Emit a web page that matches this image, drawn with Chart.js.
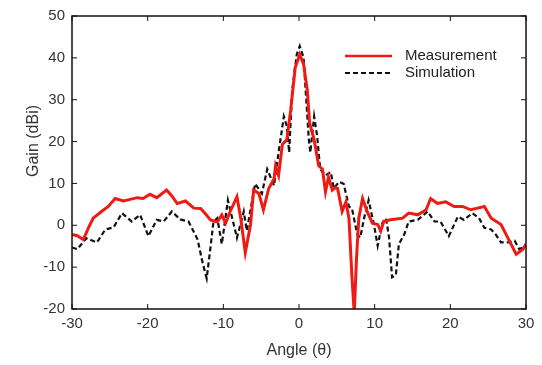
<!DOCTYPE html>
<html>
<head>
<meta charset="utf-8">
<script src="https://cdn.jsdelivr.net/npm/chart.js@4.4.1/dist/chart.umd.min.js"></script>
<style>
  html, body { margin: 0; padding: 0; background: #fff; }
  #wrap { width: 542px; height: 365px; }
</style>
</head>
<body>
<div id="wrap"><canvas id="gainChart" width="542" height="365"></canvas></div>
<script>
// ============================================
// DATA
// ============================================
const xTicks = [-30, -20, -10, 0, 10, 20, 30];
const yTicks = [-20, -10, 0, 10, 20, 30, 40, 50];

const measAngle = [
  -30, -29.3, -28.5, -27.8, -27.2, -26.1, -25.2, -24.3, -23.2, -22.3,
  -21.4, -20.6, -19.7, -18.8, -17.5, -16.8, -16.1, -15.0, -13.9, -13.0,
  -12.4, -11.7, -10.8, -10.2, -9.7, -9.1, -8.2, -7.7, -7.1, -6.4,
  -6.0, -5.3, -4.7, -4.0, -3.3, -3.1, -2.7, -2.2, -1.6, -1.1,
  -0.5, 0.1, 0.6, 1.1, 1.4, 2.0, 2.6, 3.1, 3.5, 3.9,
  4.4, 4.8, 5.1, 5.7, 6.2, 6.6, 7.0, 7.3, 7.6, 7.9,
  8.4, 9.0, 9.7, 10.4, 10.8, 11.2, 12.1, 13.7, 14.5, 15.7,
  16.8, 17.4, 18.3, 19.4, 20.5, 21.6, 22.7, 23.6, 24.5, 25.4,
  26.7, 27.6, 28.7, 29.6, 30
];
const measGain = [
  -2.2, -2.5, -3.4, -0.5, 1.7, 3.3, 4.5, 6.4, 5.8, 6.2,
  6.6, 6.4, 7.4, 6.6, 8.4, 7.0, 5.2, 5.8, 4.1, 4.0,
  2.8, 1.3, 0.8, 2.5, 0.5, 3.3, 6.8, 1.7, -6.5, 0.2,
  8.4, 7.6, 3.7, 8.8, 11.1, 14.2, 11.9, 19.3, 20.5, 27.5,
  37.7, 40.8, 38.5, 32.2, 24.4, 20.5, 14.2, 13.4, 8.0, 11.5,
  8.4, 9.0, 8.8, 3.3, 5.6, 1.7, -12.4, -21, -8, 1.7,
  6.4, 3.3, 0.5, 0.2, -1.4, 0.9, 1.3, 1.7, 2.9, 2.5,
  3.7, 6.4, 5.2, 5.6, 4.5, 4.5, 3.7, 4.1, 4.5, 1.7,
  0.2, -3.0, -6.9, -5.7, -4.5
];

const simAngle = [
  -30, -29.3, -28.1, -26.7, -25.6, -24.5, -23.4, -22.1, -21.0, -19.9,
  -18.8, -17.9, -16.8, -15.7, -14.6, -13.4, -12.8, -12.2, -11.7, -11.3,
  -10.8, -10.2, -9.4, -8.2, -7.3, -6.9, -5.8, -4.9, -4.2, -3.3,
  -2.7, -2.0, -1.6, -1.3, -0.9, -0.3, 0.1, 0.6, 1.3, 1.5,
  2.0, 2.4, 2.8, 3.5, 4.2, 4.6, 5.3, 5.9, 6.6, 7.0,
  7.7, 8.1, 8.6, 9.2, 9.9, 10.4, 11.0, 11.5, 11.9, 12.3,
  12.8, 13.2, 13.9, 14.5, 15.7, 17.0, 17.9, 18.7, 19.8, 21.0,
  21.8, 22.9, 23.8, 24.5, 25.4, 26.0, 26.7, 27.6, 28.5, 29.1,
  29.9
];
const simGain = [
  -5.3, -5.7, -3.1, -4.1, -1.0, -0.5, 2.9, 0.9, 2.5, -2.6,
  1.3, 0.9, 3.3, 1.4, 0.9, -3.4, -8.5, -12.7, -5.3, 0.9,
  1.7, -4.5, 6.0, -3.0, 3.3, -1.3, 9.9, 7.6, 13.4, 9.5,
  17.4, 26.0, 23.6, 17.4, 32.2, 40.8, 42.8, 40.1, 20.5, 17.4,
  26.0, 21.3, 13.4, 11.9, 12.7, 8.8, 10.4, 9.9, 4.5, 4.0,
  -2.2, -2.9, 1.7, 6.0, 0.2, -4.9, 0.5, 1.7, -2.9, -12.4,
  -11.9, -4.5, -2.2, 0.9, 1.3, 3.3, 0.9, 0.9, -2.6, 2.1,
  1.3, 2.9, 1.7, -0.6, -1.0, -2.2, -4.1, -4.1, -3.7, -5.7,
  -5.0
];

const toPoints = (xs, ys) => xs.map((x, i) => ({ x, y: ys[i] }));

// ============================================
// PLUGIN: box frame, inward ticks, y title, legend
// ============================================
const framePlugin = {
  id: 'frame',
  afterDatasetsDraw(chart) {
    const { ctx, chartArea: a, scales } = chart;
    const xs = scales.x, ys = scales.y;
    const tick = 5;
    ctx.save();
    ctx.strokeStyle = '#111';
    ctx.lineWidth = 1.5;
    ctx.strokeRect(a.left, a.top, a.right - a.left, a.bottom - a.top);

    ctx.lineWidth = 1;
    ctx.beginPath();
    xTicks.forEach(v => {
      const px = xs.getPixelForValue(v);
      ctx.moveTo(px, a.bottom); ctx.lineTo(px, a.bottom - tick);
      ctx.moveTo(px, a.top); ctx.lineTo(px, a.top + tick);
    });
    yTicks.forEach(v => {
      const py = ys.getPixelForValue(v);
      ctx.moveTo(a.left, py); ctx.lineTo(a.left + tick, py);
      ctx.moveTo(a.right, py); ctx.lineTo(a.right - tick, py);
    });
    ctx.stroke();

    // y axis title
    ctx.fillStyle = '#333';
    ctx.font = '16px "Liberation Sans", Arial, sans-serif';
    ctx.textAlign = 'center';
    ctx.textBaseline = 'middle';
    ctx.translate(34, 141);
    ctx.rotate(-Math.PI / 2);
    ctx.fillText('Gain (dBi)', 0, 0);
    ctx.restore();

    // legend
    ctx.save();
    ctx.font = '15px "Liberation Sans", Arial, sans-serif';
    ctx.textBaseline = 'middle';
    ctx.fillStyle = '#222';
    chart.data.datasets.forEach((ds, i) => {
      const y = 56 + i * 17;
      ctx.strokeStyle = ds.borderColor;
      ctx.lineWidth = i === 0 ? 2.5 : 2;
      ctx.setLineDash(ds.borderDash || []);
      ctx.beginPath();
      ctx.moveTo(345, y); ctx.lineTo(392, y);
      ctx.stroke();
      ctx.fillText(ds.label, 405, y);
    });
    ctx.restore();
  }
};

// ============================================
// CHART
// ============================================
new Chart(document.getElementById('gainChart'), {
  type: 'line',
  data: {
    datasets: [
      {
        label: 'Measurement',
        data: toPoints(measAngle, measGain),
        borderColor: '#f01a14',
        borderWidth: 3,
        pointRadius: 0,
        tension: 0,
        order: 1
      },
      {
        label: 'Simulation',
        data: toPoints(simAngle, simGain),
        borderColor: '#111',
        borderWidth: 2.2,
        borderDash: [5, 3],
        pointRadius: 0,
        tension: 0,
        order: 2
      }
    ]
  },
  options: {
    responsive: false,
    animation: false,
    layout: { padding: { left: 24, right: 16, top: 11, bottom: 5 } },
    plugins: { legend: { display: false }, tooltip: { enabled: false } },
    scales: {
      x: {
        type: 'linear',
        min: -30, max: 30,
        afterBuildTicks: s => { s.ticks = xTicks.map(v => ({ value: v })); },
        afterFit: s => { s.height = 51; },
        grid: { display: false, drawTicks: false },
        border: { display: false },
        ticks: { padding: 6, color: '#333', font: { family: '"Liberation Sans", Arial, sans-serif', size: 15 }, maxRotation: 0 },
        title: {
          display: true,
          text: 'Angle (θ)',
          color: '#333',
          font: { family: '"Liberation Sans", Arial, sans-serif', size: 16 },
          padding: 0
        }
      },
      y: {
        min: -20, max: 50,
        afterBuildTicks: s => { s.ticks = yTicks.map(v => ({ value: v })); },
        afterFit: s => { s.width = 48; },
        grid: { display: false, drawTicks: false },
        border: { display: false },
        ticks: { padding: 7, color: '#333', font: { family: '"Liberation Sans", Arial, sans-serif', size: 15 } }
      }
    }
  },
  plugins: [framePlugin]
});
</script>
</body>
</html>
